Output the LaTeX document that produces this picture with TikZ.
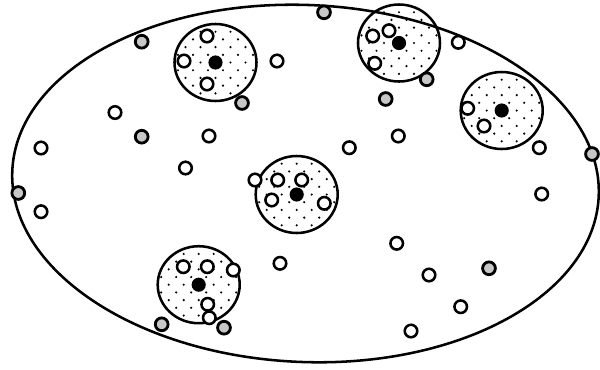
\documentclass[tikz,border=0pt]{standalone}
\usetikzlibrary{calc}
\newcommand{\zonedisc}[3]{%
  \begin{scope}
    \clip (#1,#2) ellipse [x radius=41, y radius=38.5];
    \foreach \r in {0,...,12} {
      \foreach \c in {-4,...,4} {
        \fill[black] ({#1+\c*15+mod(\r,2)*7.5}, {#2+(\r-6)*7.7}) circle [radius=1.2];
      }
    }
  \end{scope}
  \draw[zoneline] (#1,#2) ellipse [x radius=41, y radius=38.5];
  \node[core] (#3) at (#1,#2) {};
}
\begin{document}
\begin{tikzpicture}[x=0.75pt,y=-0.75pt,
  open/.style={circle,draw=black,line width=1.9pt,fill=white,minimum size=9.4pt,inner sep=0pt},
  grey/.style={circle,draw=black,line width=2.1pt,fill=black!22,minimum size=9.6pt,inner sep=0pt},
  core/.style={circle,fill=black,minimum size=10.6pt,inner sep=0pt},
  zoneline/.style={draw=black,line width=1.9pt},
  outer/.style={draw=black,line width=1.9pt}]
\useasboundingbox (0,0) rectangle (600,369);
\fill[white] (0,0) rectangle (600,369);
% big ellipse
\draw[outer, rotate around={-2.5:(305.5,183.5)}] (305.5,183.5) ellipse [x radius=293.5, y radius=178.5];
% clusters
\zonedisc{215.5}{62.5}{cA}
\zonedisc{399}{43}{cB}
\zonedisc{501.7}{110.5}{cC}
\zonedisc{296.7}{194.5}{cD}
\zonedisc{198.7}{284.7}{cE}
% open circles inside clusters
\node[open] (a1) at (207,36) {};
\node[open] (a2) at (184,61) {};
\node[open] (a3) at (207,84) {};
\node[open] (b1) at (372.7,36) {};
\node[open] (b2) at (389,30.7) {};
\node[open] (b3) at (374.7,63.3) {};
\node[open] (c1) at (467.7,108.3) {};
\node[open] (c2) at (484,126) {};
\node[open] (d1) at (255,180) {};
\node[open] (d2) at (277.7,180) {};
\node[open] (d3) at (301.7,180) {};
\node[open] (d4) at (271.7,200) {};
\node[open] (d5) at (324.3,203.3) {};
\node[open] (e1) at (183.3,266.7) {};
\node[open] (e2) at (207.3,266.7) {};
\node[open] (e3) at (233.3,270) {};
\node[open] (e4) at (207.7,304.3) {};
\node[open] (e5) at (209.3,317.7) {};
% free open circles
\node[open] (f1) at (277,61) {};
\node[open] (f2) at (458.3,42.3) {};
\node[open] (f3) at (539.3,147.7) {};
\node[open] (f4) at (349.3,147.7) {};
\node[open] (f5) at (398.3,136) {};
\node[open] (f6) at (209,136) {};
\node[open] (f7) at (185.5,168) {};
\node[open] (f8) at (115,112.5) {};
\node[open] (f9) at (41,148) {};
\node[open] (f10) at (41,211.7) {};
\node[open] (f11) at (280,263.3) {};
\node[open] (f12) at (541.7,194) {};
\node[open] (f13) at (396.7,243.3) {};
\node[open] (f14) at (429,275) {};
\node[open] (f15) at (460.7,306.7) {};
\node[open] (f16) at (411,331) {};
% grey circles
\node[grey] (g1) at (141.7,41.7) {};
\node[grey] (g2) at (242,103) {};
\node[grey] (g3) at (324,12.3) {};
\node[grey] (g4) at (426.7,79.3) {};
\node[grey] (g5) at (385.7,99) {};
\node[grey] (g6) at (592,154) {};
\node[grey] (g7) at (141.7,136.7) {};
\node[grey] (g8) at (18.3,193) {};
\node[grey] (g9) at (161.7,324.3) {};
\node[grey] (g10) at (224,327.7) {};
\node[grey] (g11) at (489,268.3) {};
\end{tikzpicture}
\end{document}
